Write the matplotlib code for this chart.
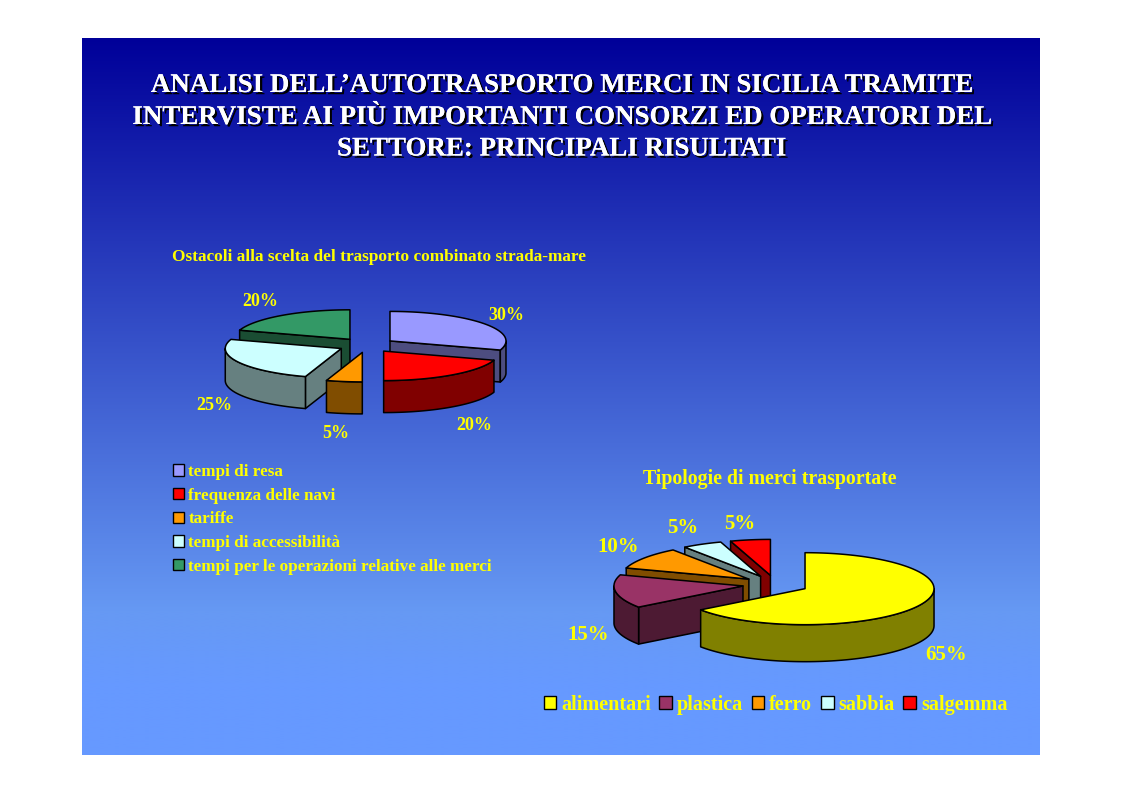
import numpy as np
import matplotlib
matplotlib.use("Agg")
import matplotlib.pyplot as plt
from matplotlib.patches import Polygon, Patch
import matplotlib.patheffects as pe

# ---- data ----
title_lines = ["ANALISI DELL’AUTOTRASPORTO MERCI IN SICILIA TRAMITE",
               "INTERVISTE AI PIÙ IMPORTANTI CONSORZI ED OPERATORI DEL",
               "SETTORE: PRINCIPALI RISULTATI"]
ostacoli_title = "Ostacoli alla scelta del trasporto combinato strada-mare"
ostacoli_labels = ["tempi di resa", "frequenza delle navi", "tariffe",
                   "tempi di accessibilità", "tempi per le operazioni relative alle merci"]
ostacoli_values = [30, 20, 5, 25, 20]
ostacoli_colors = ["#9999FF", "#FF0000", "#FF9900", "#CCFFFF", "#339966"]

merci_title = "Tipologie di merci trasportate"
merci_labels = ["alimentari", "plastica", "ferro", "sabbia", "salgemma"]
merci_values = [65, 15, 10, 5, 5]
merci_colors = ["#FFFF00", "#993366", "#FF9900", "#CCFFFF", "#FF0000"]

YELLOW = "#FFFF00"
SERIF = "Liberation Serif"

fig = plt.figure(figsize=(11.23, 7.93), dpi=100, facecolor="white")
ax = fig.add_axes([0, 0, 1, 1])
ax.set_xlim(0, 1123)
ax.set_ylim(793, 0)
ax.axis("off")

# slide background gradient (blue channel lags behind red and green)
top = np.array(matplotlib.colors.to_rgb("#000099"))
bot = np.array(matplotlib.colors.to_rgb("#6699FF"))
s = np.linspace(0, 1, 512)
tr = np.clip(s / 0.8, 0, 1)
tb = np.clip(s / 0.9, 0, 1)
w = np.stack([tr, tr, tb], axis=1)[:, None, :]
grad = top[None, None, :] * (1 - w) + bot[None, None, :] * w
ax.imshow(grad, extent=(82, 1040, 755, 38), aspect="auto", zorder=0, interpolation="bilinear")
ax.set_xlim(0, 1123)
ax.set_ylim(793, 0)


def darker(c):
    return tuple(0.5 * v for v in matplotlib.colors.to_rgb(c))


def pie3d(values, colors, cx, cy, rx, ry, depth, explode):
    """Exploded 3D-look pie, clockwise from 12 o'clock."""
    edges = np.radians(np.concatenate([[0], np.cumsum(values)]) * 3.6)
    slices = []
    for i, col in enumerate(colors):
        a0, a1 = edges[i], edges[i + 1]
        mid = (a0 + a1) / 2
        slices.append((cy - explode * ry * np.cos(mid), cx + explode * rx * np.sin(mid), a0, a1, col))
    style = dict(edgecolor="black", linewidth=1.1, joinstyle="round")
    for py, px, a0, a1, col in sorted(slices, key=lambda s: s[0]):
        def rim(a):
            return np.column_stack([px + rx * np.sin(a), py - ry * np.cos(a)])
        side = darker(col)
        down = np.array([0, depth])
        apex = np.array([px, py])
        # radial walls facing the viewer
        for ang, vis in ((a0, np.sin(a0) < -1e-6), (a1, np.sin(a1) > 1e-6)):
            if vis:
                e = rim(np.array([ang]))[0]
                ax.add_patch(Polygon([apex, e, e + down, apex + down], closed=True,
                                     facecolor=side, **style))
        # outer wall (front half of the rim only)
        lo, hi = max(a0, np.pi / 2), min(a1, 3 * np.pi / 2)
        if hi > lo:
            arc = rim(np.linspace(lo, hi, 80))
            ax.add_patch(Polygon(np.vstack([arc, (arc + down)[::-1]]), closed=True,
                                 facecolor=side, **style))
        # top face
        n = max(int((a1 - a0) * 40), 6)
        ax.add_patch(Polygon(np.vstack([apex, rim(np.linspace(a0, a1, n))]), closed=True,
                             facecolor=col, **style))


pie3d(ostacoli_values, ostacoli_colors, 366.8, 345.2, 116, 29.5, 32, 0.247)
pie3d(merci_values, merci_colors, 775.6, 584.5, 129, 36, 37, 0.256)

# title with drop shadow
shadow = [pe.withSimplePatchShadow(offset=(1.6, -1.6), shadow_rgbFace="black", alpha=1.0), pe.Normal()]
for line, y in zip(title_lines, [85.5, 117.5, 149]):
    ax.text(561, y, line, ha="center", va="center", color="white", family=SERIF,
            weight="bold", fontsize=19.4, path_effects=shadow)

ax.text(172, 257, ostacoli_title, ha="left", va="center", color=YELLOW, family=SERIF,
        weight="bold", fontsize=12.38)
ax.text(769.5, 479, merci_title, ha="center", va="center", color=YELLOW, family=SERIF,
        weight="bold", fontsize=14.3)

# percentage labels
for v, (x, y) in zip(ostacoli_values, [(506, 315), (474, 426), (336, 433), (214, 405), (260, 302)]):
    ax.text(x, y, f"{v}%", ha="center", va="center", color=YELLOW, family=SERIF,
            weight="bold", fontsize=13)
for v, (x, y) in zip(merci_values, [(946, 655), (588, 635), (618, 547), (683, 528), (740, 524)]):
    ax.text(x, y, f"{v}%", ha="center", va="center", color=YELLOW, family=SERIF,
            weight="bold", fontsize=15)

# legends
leg1 = ax.legend(handles=[Patch(facecolor=c, edgecolor="black", label=l)
                          for c, l in zip(ostacoli_colors, ostacoli_labels)],
                 loc="upper left", bbox_to_anchor=(173, 464), bbox_transform=ax.transData,
                 frameon=False, borderpad=0, borderaxespad=0, handlelength=0.65, handleheight=0.65,
                 handletextpad=0.25, labelspacing=0.45,
                 prop=dict(family=SERIF, weight="bold", size=12.3), labelcolor=YELLOW)
ax.add_artist(leg1)
ax.legend(handles=[Patch(facecolor=c, edgecolor="black", label=l)
                   for c, l in zip(merci_colors, merci_labels)],
          loc="upper left", bbox_to_anchor=(543.5, 695), bbox_transform=ax.transData, ncols=5,
          frameon=False, borderpad=0, borderaxespad=0, handlelength=0.62, handleheight=0.62,
          handletextpad=0.25, columnspacing=0.43,
          prop=dict(family=SERIF, weight="bold", size=14.5), labelcolor=YELLOW)

fig.savefig("out.png", dpi=100, facecolor="white")
